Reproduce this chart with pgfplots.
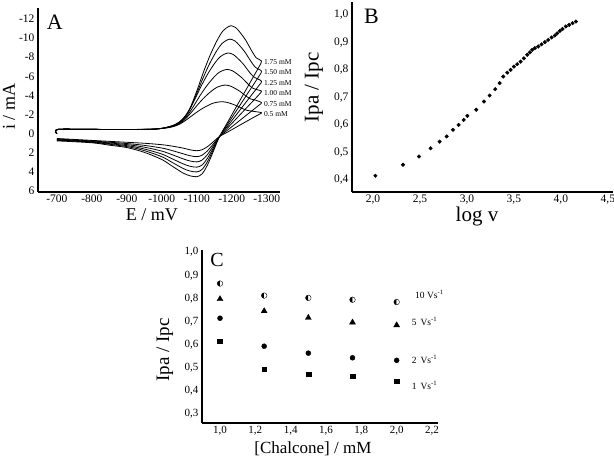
\documentclass[border=0pt]{standalone}
\usepackage{fontspec}
\setmainfont{Liberation Serif}
\usepackage{pgfplots}
\pgfplotsset{compat=1.18}
\usetikzlibrary{plotmarks}
\begin{document}
\begin{tikzpicture}
\path[use as bounding box] (0pt,0pt) rectangle (614pt,459pt);
\pgfplotsset{
  every axis/.append style={scale only axis, anchor=south west,
    axis x line*=bottom, axis y line*=left, major tick length=0pt,
    axis line style={line width=1.1pt, black}, clip=false,
    /pgf/number format/assume math mode=true},
}
% ---------------- Panel A ----------------
\begin{axis}[at={(38pt,267pt)}, width=242pt, height=184pt,
  x dir=reverse, y dir=reverse,
  xmin=-1338, xmax=-646, ymin=-13.15, ymax=6.1,
  xtick={-1300,-1200,-1100,-1000,-900,-800,-700},
  ytick={-12,-10,-8,-6,-4,-2,0,2,4,6},
  /pgf/number format/1000 sep={},
  tick label style={font=\fontsize{11.5}{11.5}\selectfont},
  xticklabel style={inner sep=2.5pt},
  xlabel={E / mV}, ylabel={i / mA},
  label style={font=\fontsize{18}{18}\selectfont},
  xlabel style={at={(axis description cs:0.471,-0.125)}, anchor=center, inner sep=0pt},
  ylabel style={at={(axis description cs:-0.12,0.462)}, anchor=center},
]
\pgfplotsset{cv/.style={black, line width=0.8pt, smooth, mark=none}}
% 0.5 mM
\addplot[cv] coordinates {(-700,0.0) (-703,-0.45) (-800,-0.45) (-933,-0.45) (-973,-0.48) (-993,-0.52) (-1013,-0.60) (-1033,-0.74) (-1053,-1.03) (-1073,-1.52) (-1093,-2.07) (-1113,-2.57) (-1133,-2.97) (-1148,-3.21) (-1163,-3.32) (-1171,-3.35) (-1185,-3.29) (-1198,-3.15) (-1213,-2.94) (-1228,-2.68) (-1243,-2.45) (-1258,-2.36) (-1285,-2.20)
(-1278,-2.02) (-1250,-1.45) (-1220,-0.83) (-1190,-0.21) (-1165,0.3) (-1145,0.92) (-1130,1.37) (-1115,1.68) (-1100,1.78) (-1080,1.68) (-1060,1.5) (-1030,1.3) (-1000,1.15) (-950,1.0) (-900,0.9) (-800,0.7) (-700,0.5)};
% 0.75 mM
\addplot[cv] coordinates {(-700,0.0) (-703,-0.45) (-800,-0.45) (-943,-0.45) (-983,-0.50) (-1003,-0.57) (-1023,-0.68) (-1043,-0.91) (-1063,-1.38) (-1083,-2.17) (-1103,-3.05) (-1123,-3.84) (-1143,-4.49) (-1158,-4.86) (-1173,-5.04) (-1181,-5.09) (-1195,-5.00) (-1208,-4.77) (-1223,-4.44) (-1238,-4.02) (-1253,-3.65) (-1268,-3.51) (-1285,-3.25)
(-1278,-2.99) (-1250,-2.17) (-1220,-1.30) (-1190,-0.43) (-1165,0.3) (-1145,1.18) (-1130,1.81) (-1115,2.25) (-1100,2.40) (-1080,2.30) (-1060,2.09) (-1030,1.77) (-1000,1.50) (-950,1.22) (-900,1.03) (-800,0.76) (-700,0.56)};
% 1.00 mM
\addplot[cv] coordinates {(-700,0.0) (-703,-0.45) (-800,-0.45) (-949,-0.45) (-989,-0.51) (-1009,-0.61) (-1029,-0.76) (-1049,-1.08) (-1069,-1.71) (-1089,-2.77) (-1109,-3.97) (-1129,-5.03) (-1149,-5.91) (-1164,-6.42) (-1179,-6.67) (-1187,-6.73) (-1201,-6.60) (-1214,-6.29) (-1229,-5.85) (-1244,-5.29) (-1259,-4.78) (-1274,-4.59) (-1285,-4.45)
(-1278,-4.09) (-1250,-3.00) (-1220,-1.84) (-1190,-0.67) (-1165,0.3) (-1145,1.41) (-1130,2.21) (-1115,2.76) (-1100,2.95) (-1080,2.85) (-1060,2.62) (-1030,2.20) (-1000,1.82) (-950,1.41) (-900,1.14) (-800,0.81) (-700,0.61)};
% 1.25 mM
\addplot[cv] coordinates {(-700,0.0) (-703,-0.45) (-800,-0.45) (-952,-0.45) (-992,-0.53) (-1012,-0.65) (-1032,-0.85) (-1052,-1.25) (-1072,-2.05) (-1092,-3.41) (-1112,-4.93) (-1132,-6.29) (-1152,-7.41) (-1167,-8.05) (-1182,-8.37) (-1190,-8.45) (-1204,-8.29) (-1217,-7.89) (-1232,-7.33) (-1247,-6.61) (-1262,-5.97) (-1285,-5.50)
(-1278,-5.06) (-1250,-3.73) (-1220,-2.31) (-1190,-0.88) (-1165,0.3) (-1145,1.64) (-1130,2.60) (-1115,3.28) (-1100,3.50) (-1080,3.40) (-1060,3.14) (-1030,2.63) (-1000,2.13) (-950,1.60) (-900,1.25) (-800,0.86) (-700,0.66)};
% 1.50 mM
\addplot[cv] coordinates {(-700,0.0) (-703,-0.45) (-800,-0.45) (-957,-0.45) (-997,-0.54) (-1017,-0.69) (-1037,-0.92) (-1057,-1.40) (-1077,-2.34) (-1097,-3.95) (-1117,-5.74) (-1137,-7.35) (-1157,-8.67) (-1172,-9.43) (-1187,-9.81) (-1195,-9.90) (-1209,-9.71) (-1222,-9.24) (-1237,-8.58) (-1252,-7.73) (-1267,-6.97) (-1285,-6.55)
(-1278,-6.03) (-1250,-4.46) (-1220,-2.78) (-1190,-1.10) (-1165,0.3) (-1145,1.85) (-1130,2.96) (-1115,3.74) (-1100,4.00) (-1080,3.90) (-1060,3.62) (-1030,3.01) (-1000,2.41) (-950,1.77) (-900,1.35) (-800,0.90) (-700,0.70)};
% 1.75 mM
\addplot[cv] coordinates {(-700,0.0) (-703,-0.45) (-800,-0.45) (-960,-0.45) (-1000,-0.56) (-1020,-0.72) (-1040,-0.99) (-1060,-1.54) (-1080,-2.62) (-1100,-4.46) (-1120,-6.53) (-1140,-8.37) (-1160,-9.89) (-1175,-10.76) (-1190,-11.19) (-1198,-11.30) (-1212,-11.08) (-1225,-10.54) (-1240,-9.78) (-1255,-8.80) (-1270,-7.94) (-1285,-7.61)
(-1278,-7.0) (-1250,-5.19) (-1220,-3.26) (-1190,-1.31) (-1165,0.3) (-1145,2.06) (-1130,3.32) (-1115,4.21) (-1100,4.50) (-1080,4.40) (-1060,4.10) (-1030,3.40) (-1000,2.70) (-950,1.95) (-900,1.45) (-850,1.2) (-800,0.95) (-700,0.75)};
\begin{scope}[every node/.style={anchor=west, inner sep=0pt, font=\fontsize{7.5}{7.5}\selectfont}]
\node at (axis cs:-1292,-7.53) {1.75 mM};
\node at (axis cs:-1292,-6.49) {1.50 mM};
\node at (axis cs:-1292,-5.27) {1.25 mM};
\node at (axis cs:-1292,-4.22) {1.00 mM};
\node at (axis cs:-1292,-3.07) {0.75 mM};
\node at (axis cs:-1292,-2.06) {0.5 mM};
\end{scope}
\node[font=\fontsize{22}{22}\selectfont] at (axis description cs:0.07,0.924) {A};
\end{axis}
% ---------------- Panel B ----------------
\begin{axis}[at={(352pt,267pt)}, width=261pt, height=190pt,
  xmin=1.776, xmax=4.555, ymin=0.356, ymax=1.047,
  xtick={2.0,2.5,3.0,3.5,4.0,4.5},
  ytick={0.4,0.5,0.6,0.7,0.8,0.9,1.0},
  /pgf/number format/use comma, /pgf/number format/fixed,
  /pgf/number format/fixed zerofill, /pgf/number format/precision=1,
  tick label style={font=\fontsize{11.5}{11.5}\selectfont},
  xticklabel style={inner sep=2.5pt},
  xlabel={log v}, ylabel={Ipa / Ipc},
  label style={font=\fontsize{21}{21}\selectfont},
  xlabel style={at={(axis description cs:0.479,-0.128)}, anchor=center, inner sep=0pt},
  ylabel style={at={(axis description cs:-0.146,0.55)}, anchor=center},
]
\addplot[only marks, mark=*, mark size=1.8pt, black] coordinates {
(2.025,0.415) (2.319,0.455) (2.489,0.485) (2.613,0.515) (2.709,0.539) (2.784,0.558)
(2.851,0.582) (2.911,0.600) (2.965,0.618) (3.004,0.633) (3.099,0.655) (3.181,0.685)
(3.241,0.707) (3.301,0.730) (3.348,0.752) (3.386,0.776) (3.429,0.790) (3.465,0.800)
(3.500,0.812) (3.535,0.821) (3.571,0.830) (3.606,0.842) (3.642,0.855) (3.670,0.864)
(3.695,0.873) (3.723,0.879) (3.759,0.885) (3.794,0.893) (3.830,0.901) (3.865,0.909)
(3.901,0.918) (3.936,0.925) (3.961,0.933) (3.989,0.942) (4.018,0.949) (4.053,0.958)
(4.088,0.964) (4.124,0.970) (4.160,0.976)};
\node[font=\fontsize{22}{22}\selectfont] at (axis description cs:0.075,0.926) {B};
\end{axis}
% ---------------- Panel C ----------------
\begin{axis}[at={(202pt,36pt)}, width=236pt, height=173pt,
  xmin=0.898, xmax=2.234, ymin=0.261, ymax=1.009,
  xtick={1.0,1.2,1.4,1.6,1.8,2.0,2.2},
  ytick={0.3,0.4,0.5,0.6,0.7,0.8,0.9,1.0},
  /pgf/number format/use comma, /pgf/number format/fixed,
  /pgf/number format/fixed zerofill, /pgf/number format/precision=1,
  tick label style={font=\fontsize{11}{11}\selectfont},
  xlabel={[Chalcone] / mM}, ylabel={Ipa / Ipc},
  label style={font=\fontsize{17}{17}\selectfont},
  xlabel style={at={(axis description cs:0.47,-0.15)}, anchor=center, inner sep=0pt},
  ylabel style={at={(axis description cs:-0.157,0.422)}, anchor=center, font=\fontsize{19}{19}\selectfont},
]
\addplot[only marks, mark=halfcircle*, mark size=2.8pt, mark options={rotate=90, fill=black, draw=black}] coordinates {
(1.0,0.864) (1.25,0.812) (1.5,0.802) (1.75,0.794) (2.0,0.784)};
\addplot[only marks, mark=triangle*, mark size=3.4pt, black] coordinates {
(1.0,0.797) (1.25,0.745) (1.5,0.716) (1.75,0.696) (2.0,0.684)};
\addplot[only marks, mark=*, mark size=2.5pt, black] coordinates {
(1.0,0.714) (1.25,0.593) (1.5,0.563) (1.75,0.543) (2.0,0.532)};
\addplot[only marks, mark=square*, mark size=2.4pt, black] coordinates {
(1.0,0.615) (1.25,0.494) (1.5,0.472) (1.75,0.463) (2.0,0.442)};
\begin{scope}[every node/.style={anchor=west, inner sep=0pt, font=\fontsize{9.5}{9.5}\selectfont}]
\node at (axis cs:2.104,0.818) {10 Vs\textsuperscript{-1}};
\node at (axis cs:2.085,0.701) {5\, Vs\textsuperscript{-1}};
\node at (axis cs:2.085,0.537) {2\, Vs\textsuperscript{-1}};
\node at (axis cs:2.085,0.424) {1\, Vs\textsuperscript{-1}};
\end{scope}
\node[font=\fontsize{20}{20}\selectfont] at (axis description cs:0.064,0.942) {C};
\end{axis}
\end{tikzpicture}
\end{document}
